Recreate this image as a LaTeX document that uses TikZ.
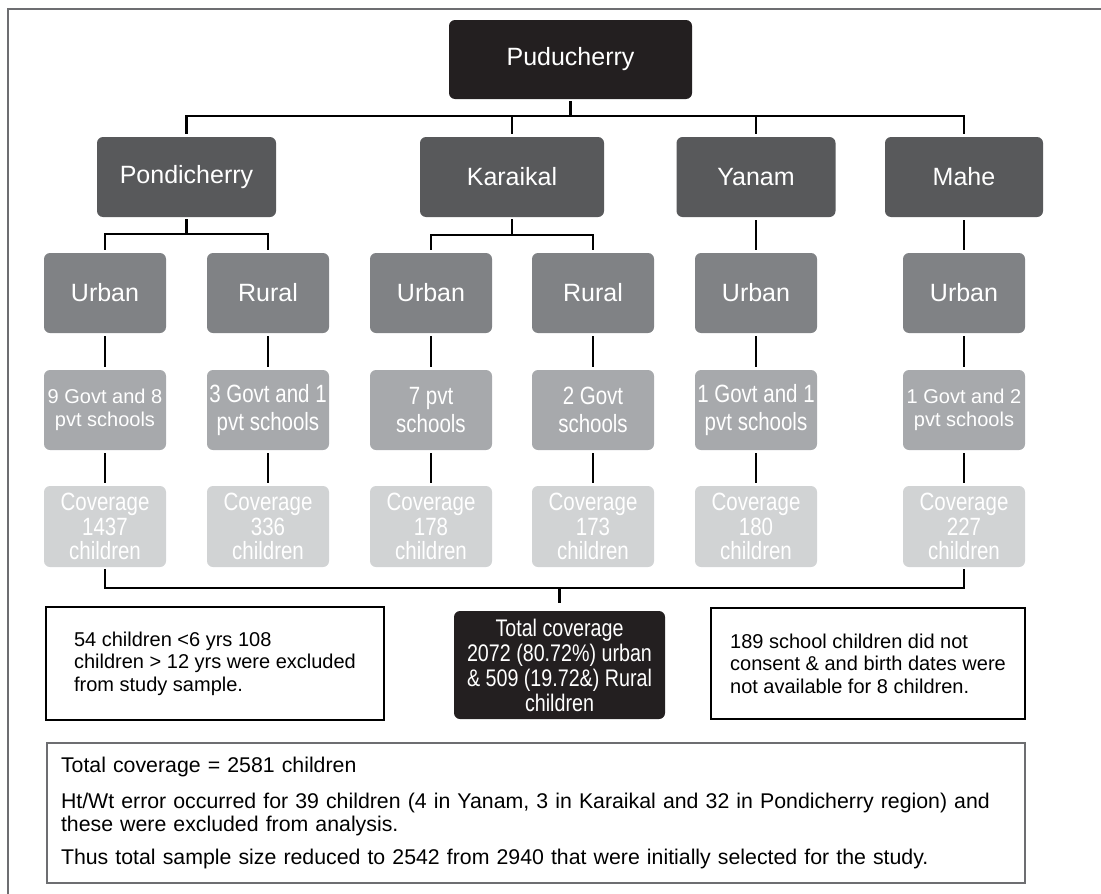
\documentclass[tikz,border=0pt]{standalone}
\usepackage{fontspec}
\setmainfont{Liberation Sans}
\newfontfamily\condfont[FakeStretch=0.82]{Liberation Sans}
\usepackage{tikz}
\definecolor{pudblack}{HTML}{231F20}
\definecolor{regiongray}{HTML}{58595B}
\definecolor{areagray}{HTML}{808285}
\definecolor{schoolgray}{HTML}{A7A9AC}
\definecolor{covergray}{HTML}{D1D3D4}
\definecolor{framegray}{HTML}{6D6E71}
\newcommand{\bigtext}{\fontsize{25}{28}\selectfont}
\newcommand{\condtext}{\condfont\fontsize{25}{28}\selectfont}
\newcommand{\smalltext}{\fontsize{20}{23}\selectfont}

\begin{document}
\begin{tikzpicture}[x=1pt,y=-1pt]
\tikzstyle{box}=[rectangle, rounded corners=6pt, text=white, align=center, inner sep=0pt]
\tikzstyle{state}=[box, fill=pudblack, minimum width=243pt, minimum height=79pt, font=\bigtext]
\tikzstyle{region}=[box, fill=regiongray, minimum height=80pt, font=\bigtext]
\tikzstyle{areabox}=[box, fill=areagray, minimum width=122pt, minimum height=80pt, font=\bigtext]
\tikzstyle{school}=[box, fill=schoolgray, minimum width=122pt, minimum height=80pt, font=\condtext]
\tikzstyle{cover}=[box, fill=covergray, minimum width=122pt, minimum height=81pt, font=\condfont\fontsize{25}{24.5}\selectfont]
\tikzstyle{note}=[rectangle, draw=black, line width=1.3pt, align=left, font=\fontsize{20}{22.5}\selectfont, inner sep=0pt]
\tikzstyle{link}=[line width=2.5pt]
\tikzstyle{gap}=[shorten <=3pt, shorten >=3pt]
\useasboundingbox (0,0) rectangle (1101,894);
\draw[framegray, line width=2pt] (8,900) -- (8,9) -- (1110,9);

\node[state] (pud) at (570.5,59.5) {Puducherry};
\node[region, minimum width=179pt] (pon) at (186.5,177) {Pondicherry};
\node[region, minimum width=184pt] (kar) at (512,177) {Karaikal};
\node[region, minimum width=159pt] (yan) at (756,177) {Yanam};
\node[region, minimum width=158pt] (mah) at (964,177) {Mahe};

\node[areabox] (a1) at (105,293) {Urban};
\node[areabox] (a2) at (268,293) {Rural};
\node[areabox] (a3) at (431,293) {Urban};
\node[areabox] (a4) at (593,293) {Rural};
\node[areabox] (a5) at (756,293) {Urban};
\node[areabox] (a6) at (964,293) {Urban};

\node[school, font=\smalltext] (s1) at (105,410) {9 Govt and 8\\pvt schools};
\node[school] (s2) at (268,410) {3 Govt and 1\\pvt schools};
\node[school] (s3) at (431,410) {7 pvt\\schools};
\node[school] (s4) at (593,410) {2 Govt\\schools};
\node[school] (s5) at (756,410) {1 Govt and 1\\pvt schools};
\node[school, font=\smalltext] (s6) at (964,410) {1 Govt and 2\\pvt schools};

\node[cover] (c1) at (105,526.5) {Coverage\\1437\\children};
\node[cover] (c2) at (268,526.5) {Coverage\\336\\children};
\node[cover] (c3) at (431,526.5) {Coverage\\178\\children};
\node[cover] (c4) at (593,526.5) {Coverage\\173\\children};
\node[cover] (c5) at (756,526.5) {Coverage\\180\\children};
\node[cover] (c6) at (964,526.5) {Coverage\\227\\children};

\node[note, minimum width=338pt, minimum height=113pt] (excl) at (215,663.5) {54 children <6 yrs 108\\children > 12 yrs were excluded\\from study sample.};
\node[box, fill=pudblack, minimum width=211pt, minimum height=108pt, font=\condfont\fontsize{24}{25}\selectfont] (tot) at (559.5,665) {Total coverage\\2072 (80.72\%) urban\\\& 509 (19.72\&) Rural\\children};
\node[note, minimum width=314pt, minimum height=111pt] (miss) at (868,663.5) {189 school children did not\\consent \& and birth dates were\\not available for 8 children.};
\node[note, draw=framegray, line width=2pt, minimum width=978pt, minimum height=140pt, text width=950pt, inner xsep=14pt, font=\fontsize{21.3}{23.5}\selectfont] (sum) at (536,813) {Total coverage = 2581 children\\[12pt]Ht/Wt error occurred for 39 children (4 in Yanam, 3 in Karaikal and 32 in Pondicherry region) and\\these were excluded from analysis.\\[9pt]Thus total sample size reduced to 2542 from 2940 that were initially selected for the study.};

\coordinate (bus) at (570.5,116);
\coordinate (ponbus) at (186.5,234);
\coordinate (karbus) at (512,235);
\coordinate (totbus) at (559.5,588);
\draw[link, shorten <=2pt] (pud.south) -- (bus);
\draw[link, gap] (pon.north) |- (bus) -| (mah.north);
\foreach \n in {kar,yan}
  \draw[link, shorten >=3pt] (\n.north |- bus) -- (\n.north);
\draw[link, shorten <=2pt] (pon.south) -- (ponbus);
\draw[link, gap] (a1.north) |- (ponbus) -| (a2.north);
\draw[link, shorten <=2pt] (kar.south) -- (karbus);
\draw[link, gap] (a3.north) |- (karbus) -| (a4.north);
\draw[link, gap] (yan.south) -- (a5.north);
\draw[link, gap] (mah.south) -- (a6.north);
\foreach \i in {1,...,6}{
  \draw[link, gap] (a\i) -- (s\i);
  \draw[link, gap] (s\i) -- (c\i);
}
\draw[link, shorten <=2pt, shorten >=2pt] (c1.south) |- (totbus) -| (c6.south);
\draw[link, shorten >=8pt] (totbus) -- (tot.north);
\end{tikzpicture}
\end{document}
